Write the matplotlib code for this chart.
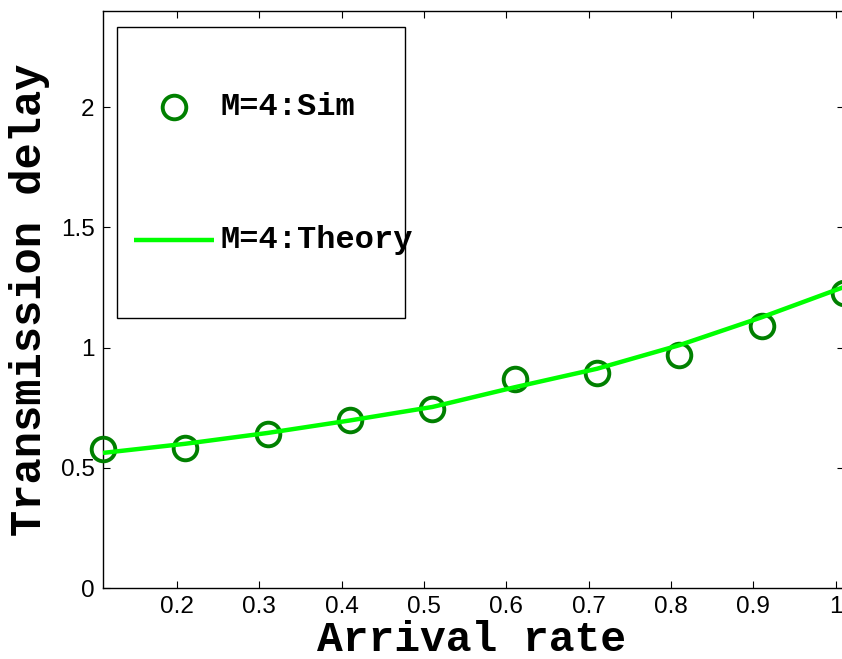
import matplotlib
matplotlib.use("Agg")
import matplotlib.pyplot as plt
from matplotlib.patches import Rectangle

# arrival rate grid used for both the simulation and the analytical curve
arrival_rate = [0.11, 0.21, 0.31, 0.41, 0.51, 0.61, 0.71, 0.81, 0.91, 1.01]
sim_delay = [0.580, 0.583, 0.639, 0.698, 0.746, 0.868, 0.896, 0.968, 1.091, 1.226]
theory_delay = [0.562, 0.600, 0.645, 0.697, 0.753, 0.835, 0.912, 1.010, 1.126, 1.252]

x_ticks = [0.2, 0.3, 0.4, 0.5, 0.6, 0.7, 0.8, 0.9, 1.0]
x_tick_labels = ["0.2", "0.3", "0.4", "0.5", "0.6", "0.7", "0.8", "0.9", "1"]
y_ticks = [0, 0.5, 1, 1.5, 2]
y_tick_labels = ["0", "0.5", "1", "1.5", "2"]

SIM_COLOR = "#008000"
THEORY_COLOR = "#00FF00"
MONO = "Liberation Mono"
SANS = "Liberation Sans"

fig = plt.figure(figsize=(8.42, 6.59), dpi=100)
ax = fig.add_axes([0.1223, 0.1077, 0.880, 0.8756])

ax.plot(arrival_rate, sim_delay, linestyle="none", marker="o", markersize=17,
        markerfacecolor="none", markeredgecolor=SIM_COLOR, markeredgewidth=2.8,
        clip_on=False, zorder=3)
ax.plot(arrival_rate, theory_delay, color=THEORY_COLOR, linewidth=3.2,
        solid_capstyle="butt", clip_on=False, zorder=4)

ax.set_xlim(0.11, 1.01)
ax.set_ylim(0, 2.4)
ax.set_xticks(x_ticks)
ax.set_xticklabels(x_tick_labels)
ax.set_yticks(y_ticks)
ax.set_yticklabels(y_tick_labels)
ax.tick_params(direction="in", length=4.7, width=0.8, top=True, right=True,
               labelsize=17.5, colors="black")
ax.tick_params(axis="x", pad=6)
ax.tick_params(axis="y", pad=6)
for lbl in ax.get_xticklabels() + ax.get_yticklabels():
    lbl.set_fontfamily(SANS)
for spine in ax.spines.values():
    spine.set_linewidth(1.0)

ax.set_xlabel("Arrival rate", fontsize=31, fontweight="bold", family=MONO,
              va="baseline")
ax.xaxis.set_label_coords(0.497, -0.11)
ax.set_ylabel("Transmission delay", fontsize=31.5, fontweight="bold", family=MONO,
              va="baseline")
ax.yaxis.set_label_coords(-0.0837, 0.5)

# hand-built legend box, text runs past the frame on purpose
ax.add_patch(Rectangle((0.0189, 0.468), 0.3887, 0.504, transform=ax.transAxes,
                       facecolor="white", edgecolor="black", linewidth=1.0,
                       zorder=5, clip_on=False))
ax.plot([0.0958], [0.8336], transform=ax.transAxes, linestyle="none", marker="o",
        markersize=17, markerfacecolor="none", markeredgecolor=SIM_COLOR,
        markeredgewidth=2.8, zorder=6, clip_on=False)
ax.plot([0.0418, 0.1498], [0.6031, 0.6031], transform=ax.transAxes,
        color=THEORY_COLOR, linewidth=3.2, solid_capstyle="butt", zorder=6,
        clip_on=False)
ax.text(0.1592, 0.8198, "M=4:Sim", transform=ax.transAxes, fontsize=23,
        fontweight="bold", family=MONO, va="baseline", ha="left", zorder=7)
ax.text(0.1592, 0.5893, "M=4:Theory", transform=ax.transAxes, fontsize=23,
        fontweight="bold", family=MONO, va="baseline", ha="left", zorder=7)

fig.savefig("out.png", dpi=100, facecolor="white")
